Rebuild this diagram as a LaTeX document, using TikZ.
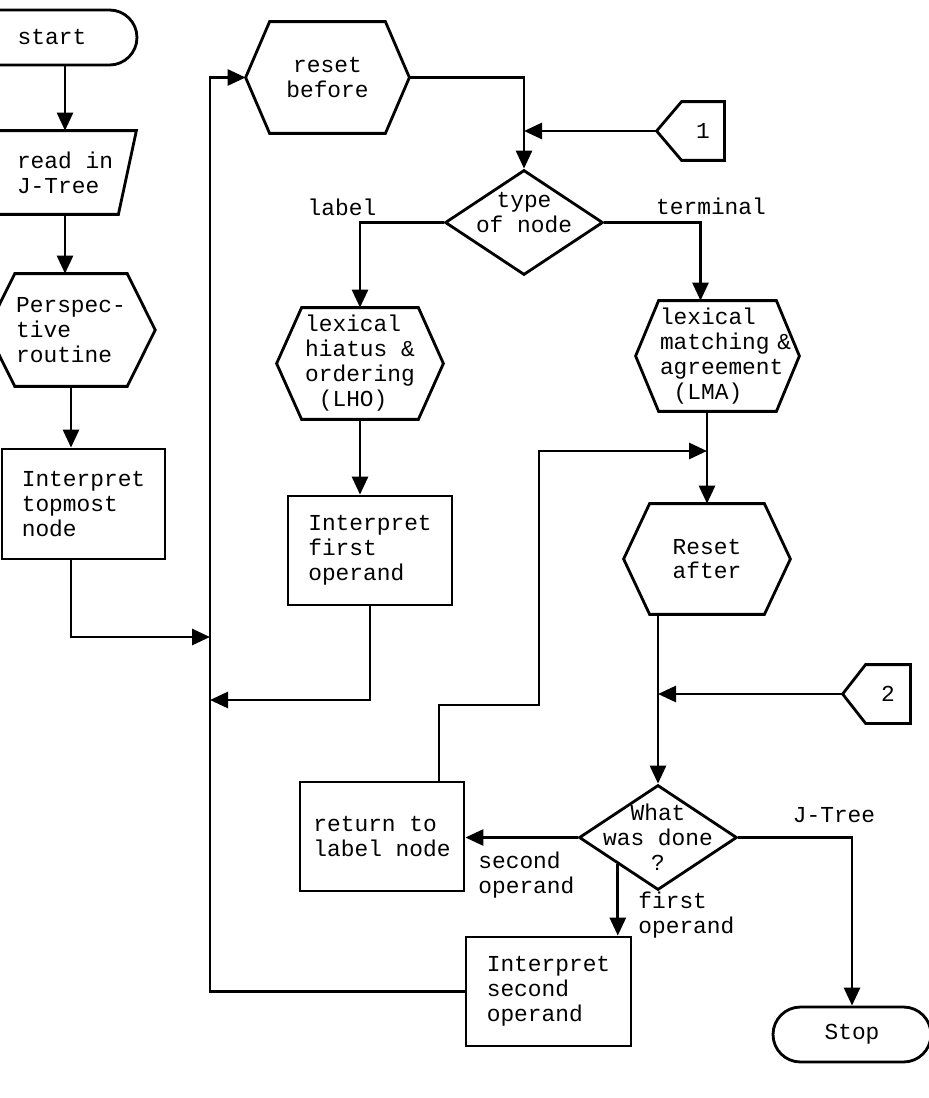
\documentclass[tikz,border=0pt]{standalone}
\usepackage{fontspec}
\setmainfont{Liberation Mono}
\usetikzlibrary{arrows.meta, shapes.geometric, shapes.misc}

\newcommand{\hexrim}[2]{\draw (#1.north west) -- (#1.north east) -- ([xshift=#2]#1.east) coordinate (#1-r) -- (#1.south east) -- (#1.south west) -- ([xshift=-#2]#1.west) coordinate (#1-l) -- cycle;}
\newcommand{\tagrim}[2]{\draw (#1.north west) -- (#1.north east) -- (#1.south east) -- (#1.south west) -- ([xshift=-#2]#1.west) coordinate (#1-l) -- cycle;}

\begin{document}
\begin{tikzpicture}[x=0.02cm, y=-0.02cm, line width=1.6pt, >={Triangle[length=3.6mm, width=3.2mm]},
        font=\fontsize{13}{14.2}\selectfont,
        box/.style={draw, rectangle, align=left, inner sep=0pt},
        txt/.style={inner sep=0pt, align=left},
        term/.style={draw, rounded rectangle, minimum height=1.1cm, inner sep=0pt},
        dmd/.style={draw, diamond, minimum width=3.16cm, minimum height=2.1cm, inner sep=0pt}]
        \useasboundingbox (0,0) rectangle (929,1098);

        \node[term, minimum width=3.4cm] (start) at (52,37.5) {start};
        \node[txt, minimum width=2.8cm, minimum height=1.62cm] (readin) at (65,172.5) {read in\\J-Tree};
        \node[txt, minimum width=2.16cm, minimum height=2.2cm] (persp) at (71,330) {Perspec-\\tive\\routine};
        \node[box, minimum width=3.26cm, minimum height=2.2cm] (itn) at (83.5,504) {Interpret\\topmost\\node};
        \node[txt, align=center, minimum width=2.26cm, minimum height=2.18cm] (rb) at (327.5,77.5) {reset\\before};
        \node[txt, minimum width=0.8cm, minimum height=1.12cm] (c1) at (703,131) {1};
        \node[dmd, label={[align=center, yshift=0.2cm]center:type\\of node}] (ton) at (524,222.5) {};
        \node[txt, minimum width=2.28cm, minimum height=2.18cm] (lho) at (360,363.5) {lexical\\hiatus \&\\ordering\\\hphantom{x}(LHO)};
        \node[txt, text width=2.3cm, minimum height=2.16cm] (lma) at (717.5,356) {lexical\\matching~\&\\agreement\\\hphantom{x}(LMA)};
        \node[box, minimum width=3.28cm, minimum height=2.18cm] (ifo) at (370,550.5) {Interpret\\first\\operand};
        \node[txt, align=center, minimum width=2.24cm, minimum height=2.16cm] (rsa) at (707,559) {Reset\\after};
        \node[txt, minimum width=0.84cm, minimum height=1.12cm] (c2) at (888,694) {2};
        \node[box, minimum width=3.28cm, minimum height=2.18cm] (ret) at (382,836.5) {return to\\label node};
        \node[dmd, label={[align=center]center:What\\was done\\?}] (wwd) at (658,837.5) {};
        \node[box, minimum width=3.3cm, minimum height=2.18cm] (isn) at (548.5,991.5) {Interpret\\second\\operand};
        \node[term, minimum width=3.16cm] (stp) at (852,1034.5) {Stop};

        \node[txt] (lbllabel) at (342,207) {label};
        \node[txt] (lblterm) at (711,206) {terminal};
        \node[txt] (lbljtree) at (834,815) {J-Tree};
        \node[txt, anchor=north west] (lblsecond) at (477,851) {second\\operand};
        \node[txt, anchor=north west] (lblfirst) at (637,891) {first\\operand};

        \draw (readin.north west) -- (readin.north east) -- ([xshift=-0.36cm]readin.south east) -- (readin.south west) -- cycle;
        \hexrim{persp}{0.56cm}
        \hexrim{rb}{0.48cm}
        \hexrim{lho}{0.5cm}
        \hexrim{lma}{0.46cm}
        \hexrim{rsa}{0.52cm}
        \tagrim{c1}{0.5cm}
        \tagrim{c2}{0.46cm}

        \coordinate (j1) at (210,637);
        \coordinate (j2) at (210,700);
        \coordinate (j3) at (707,451);
        \coordinate (bend) at (539,705);

        \draw[->] (start.south -| readin.north) -- (readin.north);
        \draw[->] (readin.south) -- (readin.south |- persp.north);
        \draw[->] (persp.south) -- (persp.south |- itn.north);
        \draw[->] (itn.south -| persp.south) |- (j1);
        \draw[->] (isn.west) -| (j1 |- rb-l) -- (rb-l);
        \draw[->] (rb-r) -| (ton.north);
        \draw[->] (c1-l) -- (c1-l -| ton.north);
        \draw[->] (ton.west) -| (lho.north);
        \draw[->] (ton.east) -| ([xshift=-0.34cm]lma.north);
        \draw[->] (lho.south) -- (lho.south |- ifo.north);
        \draw[->] (ifo.south) |- (j2);
        \draw[->] (lma.south -| rsa.north) -- (rsa.north);
        \draw[->] ([xshift=1.14cm]ret.north) |- (bend) |- (j3);
        \draw[->] (rsa.south -| wwd.north) -- (wwd.north);
        \draw[->] (c2-l) -- (c2-l -| wwd.north);
        \draw[->] (wwd.west) -- (wwd.west -| ret.east);
        \draw[->] (wwd.south west) -- (wwd.south west |- isn.north);
        \draw[->] (wwd.east) -| (stp.north);
    \end{tikzpicture}
\end{document}
